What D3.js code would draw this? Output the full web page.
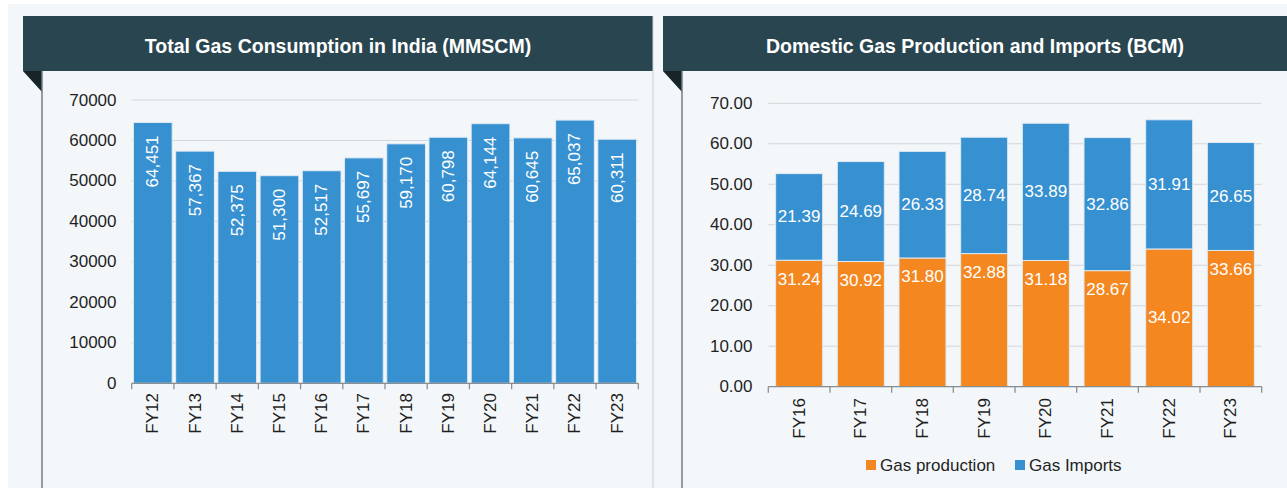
<!DOCTYPE html>
<html>
<head>
<meta charset="utf-8">
<script src="https://cdn.jsdelivr.net/npm/d3@7"></script>
<style>
    body { margin: 0; background: #ffffff; }
    svg { display: block; font-family: "Liberation Sans", Arial, sans-serif; }
</style>
</head>
<body>
<div class="chart__container"></div>
<script>
//initialisation
const CHART__WIDTH = 1287;
const CHART__HEIGHT = 488;

// left chart data
const CONSUMPTION_YEARS = ["FY12", "FY13", "FY14", "FY15", "FY16", "FY17", "FY18", "FY19", "FY20", "FY21", "FY22", "FY23"];
const CONSUMPTION_VALUES = [64451, 57367, 52375, 51300, 52517, 55697, 59170, 60798, 64144, 60645, 65037, 60311];
const CONSUMPTION_TICKS = [0, 10000, 20000, 30000, 40000, 50000, 60000, 70000];

// right chart data
const SUPPLY_YEARS = ["FY16", "FY17", "FY18", "FY19", "FY20", "FY21", "FY22", "FY23"];
const GAS_PRODUCTION = [31.24, 30.92, 31.80, 32.88, 31.18, 28.67, 34.02, 33.66];
const GAS_IMPORTS = [21.39, 24.69, 26.33, 28.74, 33.89, 32.86, 31.91, 26.65];
const SUPPLY_TICKS = [0, 10, 20, 30, 40, 50, 60, 70];
const SERIES_NAMES = ["Gas production", "Gas Imports"];

const BLUE = "#3790d0";
const ORANGE = "#f48720";
const HEADER = "#294650";
const TEXT = "#1f1f1f";

const svg = d3.select(".chart__container").append("svg")
    .attr("width", CHART__WIDTH)
    .attr("height", CHART__HEIGHT);

//panel background
svg.append("rect").attr("x", 8).attr("y", 4).attr("width", CHART__WIDTH - 8).attr("height", CHART__HEIGHT - 4).attr("fill", "#f4f7f9");

//draw a panel header with its folded corner
const drawHeader = (x0, x1, title) => {
    svg.append("rect").attr("x", x0).attr("y", 16).attr("width", x1 - x0).attr("height", 55).attr("fill", HEADER);
    svg.append("path").attr("d", `M${x0},71 L${x0 + 19},71 L${x0 + 19},92 Z`).attr("fill", "#172529");
    svg.append("line").attr("x1", x0 + 19).attr("x2", x0 + 19).attr("y1", 71).attr("y2", CHART__HEIGHT)
        .attr("stroke", "#6f7f85").attr("stroke-width", 1.5);
    svg.append("text").attr("x", (x0 + x1) / 2).attr("y", 46)
        .attr("text-anchor", "middle").attr("dominant-baseline", "central")
        .attr("fill", "#ffffff").attr("font-weight", "bold").attr("font-size", 19.5)
        .text(title);
}

drawHeader(23, 653, "Total Gas Consumption in India (MMSCM)");
drawHeader(663, 1287, "Domestic Gas Production and Imports (BCM)");
svg.append("line").attr("x1", 653).attr("x2", 653).attr("y1", 16).attr("y2", CHART__HEIGHT).attr("stroke", "#c9d0d3");

//shared axis pieces
const drawGrid = (g, y, ticks, x0, x1, fmt, labelX) => {
    g.selectAll(".grid").data(ticks).enter().append("line")
        .attr("x1", x0).attr("x2", x1)
        .attr("y1", d => y(d)).attr("y2", d => y(d))
        .attr("stroke", "#d3d6d8").attr("stroke-width", 1);
    g.selectAll(".ylab").data(ticks).enter().append("text")
        .attr("x", labelX).attr("y", d => y(d))
        .attr("text-anchor", "end").attr("dominant-baseline", "central")
        .attr("font-size", 17).attr("fill", TEXT)
        .text(fmt);
}

const drawXAxis = (g, x, y0, labelY) => {
    const half = (x.step() - x.bandwidth()) / 2;
    const bounds = x.domain().map(d => x(d) - half).concat([x.range()[1]]);
    g.append("line").attr("x1", x.range()[0]).attr("x2", x.range()[1]).attr("y1", y0).attr("y2", y0)
        .attr("stroke", "#8a8f92").attr("stroke-width", 1.3);
    g.selectAll(".xtick").data(bounds).enter().append("line")
        .attr("x1", d => d).attr("x2", d => d).attr("y1", y0).attr("y2", y0 + 6)
        .attr("stroke", "#8a8f92").attr("stroke-width", 1.3);
    g.selectAll(".xlab").data(x.domain()).enter().append("text")
        .attr("transform", d => `translate(${x(d) + x.bandwidth() / 2},${labelY}) rotate(-90)`)
        .attr("text-anchor", "end").attr("dominant-baseline", "central")
        .attr("font-size", 17).attr("fill", TEXT)
        .text(d => d);
}

/*-----------------------------------left chart-----------------------------------*/
const left = svg.append("g");
const xLeft = d3.scaleBand().domain(CONSUMPTION_YEARS).range([131.7, 638.3]).paddingInner(0.083).paddingOuter(0.0415);
const yLeft = d3.scaleLinear().domain([0, 70000]).range([383.3, 100]);

drawGrid(left, yLeft, CONSUMPTION_TICKS, 131.7, 638.3, d => d, 116.5);

left.selectAll(".bar").data(CONSUMPTION_VALUES).enter().append("rect")
    .attr("x", (d, i) => xLeft(CONSUMPTION_YEARS[i]))
    .attr("width", xLeft.bandwidth())
    .attr("y", d => yLeft(d))
    .attr("height", d => yLeft(0) - yLeft(d))
    .attr("fill", BLUE).attr("stroke", "#dfeaf3").attr("stroke-width", 1);

left.selectAll(".val").data(CONSUMPTION_VALUES).enter().append("text")
    .attr("transform", (d, i) => `translate(${xLeft(CONSUMPTION_YEARS[i]) + xLeft.bandwidth() / 2},${yLeft(d) + 13}) rotate(-90)`)
    .attr("text-anchor", "end").attr("dominant-baseline", "central")
    .attr("font-size", 17).attr("fill", "#ffffff")
    .text(d => d3.format(",")(d));

drawXAxis(left, xLeft, 383.3, 393);

/*-----------------------------------right chart-----------------------------------*/
const right = svg.append("g");
const xRight = d3.scaleBand().domain(SUPPLY_YEARS).range([768.3, 1261.7]).paddingInner(0.238).paddingOuter(0.119);
const yRight = d3.scaleLinear().domain([0, 70]).range([386.7, 103.3]);

drawGrid(right, yRight, SUPPLY_TICKS, 768.3, 1261.7, d => d3.format(".2f")(d), 752.5);

const stackRows = SUPPLY_YEARS.map((year, i) => ({ year: year, production: GAS_PRODUCTION[i], imports: GAS_IMPORTS[i] }));
const stacked = d3.stack().keys(["production", "imports"])(stackRows);
const colors = [ORANGE, BLUE];
// data labels for production sit near the top, except where the source centred it
const CENTRED_PRODUCTION_LABELS = ["FY22"];

stacked.forEach((layer, k) => {
    right.selectAll(".seg" + k).data(layer).enter().append("rect")
        .attr("x", d => xRight(d.data.year))
        .attr("width", xRight.bandwidth())
        .attr("y", d => yRight(d[1]))
        .attr("height", d => yRight(d[0]) - yRight(d[1]))
        .attr("fill", colors[k]).attr("stroke", "#dfeaf3").attr("stroke-width", 1);

    right.selectAll(".lab" + k).data(layer).enter().append("text")
        .attr("x", d => xRight(d.data.year) + xRight.bandwidth() / 2)
        .attr("y", d => {
            if (k === 1 || CENTRED_PRODUCTION_LABELS.includes(d.data.year)) return (yRight(d[0]) + yRight(d[1])) / 2;
            return yRight(d[1]) + 19;
        })
        .attr("text-anchor", "middle").attr("dominant-baseline", "central")
        .attr("font-size", 17).attr("fill", "#ffffff")
        .text(d => d3.format(".2f")(d[1] - d[0]));
});

drawXAxis(right, xRight, 386.7, 398);

//legend
const legend = right.append("g");
const legendX = [866, 1015];
SERIES_NAMES.forEach((name, i) => {
    legend.append("rect").attr("x", legendX[i]).attr("y", 460).attr("width", 10).attr("height", 10).attr("fill", colors[i]);
    legend.append("text").attr("x", legendX[i] + 14).attr("y", 465.5)
        .attr("dominant-baseline", "central").attr("font-size", 17).attr("fill", TEXT)
        .text(name);
});
</script>
</body>
</html>
